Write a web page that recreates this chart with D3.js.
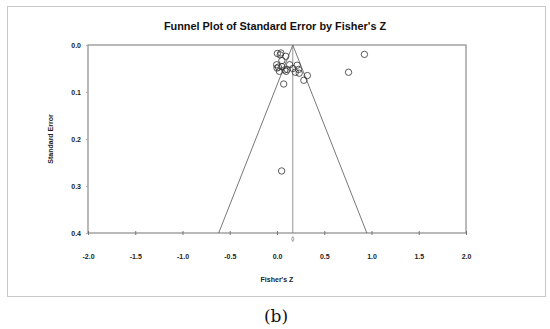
<!DOCTYPE html>
<html>
<head>
<meta charset="utf-8">
<script src="https://cdn.jsdelivr.net/npm/d3@7"></script>
<style>
  body { margin: 0; background: #fff; }
  svg { display: block; font-family: Arial, "Liberation Sans", sans-serif; }
</style>
</head>
<body>
<script>
// Fisher's Z / standard error per study
const fisherZ = [0.004, 0.041, 0.034, 0.093, 0.052, 0.925, 0.757, -0.004, 0.0, 0.052,
  0.026, 0.097, 0.108, 0.134, 0.168, 0.213, 0.228, 0.194, 0.235, 0.321,
  0.284, 0.071, 0.049, 0.015, 0.082];
const stdErr = [0.018, 0.017, 0.021, 0.024, 0.033, 0.020, 0.058, 0.042, 0.049, 0.046,
  0.056, 0.056, 0.052, 0.042, 0.050, 0.043, 0.052, 0.058, 0.060, 0.065,
  0.075, 0.083, 0.268, 0.047, 0.053];
const pooledZ = 0.167;
const xTicks = [-2.0, -1.5, -1.0, -0.5, 0.0, 0.5, 1.0, 1.5, 2.0];
const yTicks = [0.0, 0.1, 0.2, 0.3, 0.4];

const width = 550, height = 329;
const margin = {top: 45, bottom: 96, left: 88, right: 84};

// plain hyphen for negatives, like the original
const fmt = d => d.toFixed(1);

const svg = d3.select('body').append('svg')
  .attr('width', width)
  .attr('height', height);

// outer frame
svg.append('rect')
  .attr('x', 7.5).attr('y', 6.5)
  .attr('width', 538).attr('height', 290)
  .attr('fill', 'none')
  .attr('stroke', '#c8c8c8');

const xScale = d3.scaleLinear()
  .domain([-2, 2])
  .range([margin.left, width - margin.right]);

const yScale = d3.scaleLinear()
  .domain([0, 0.4])
  .range([margin.top, height - margin.bottom]);

svg.append('text')
  .attr('x', 275).attr('y', 30)
  .attr('text-anchor', 'middle')
  .attr('font-size', 10.9)
  .attr('font-weight', 'bold')
  .attr('fill', '#111')
  .text('Funnel Plot of Standard Error by Fisher\'s Z');

// plot box
svg.append('rect')
  .attr('x', xScale(-2)).attr('y', yScale(0))
  .attr('width', xScale(2) - xScale(-2))
  .attr('height', yScale(0.4) - yScale(0))
  .attr('fill', 'none')
  .attr('stroke', '#8a8a8a')
  .attr('stroke-width', 1.2);

const xAxis = svg.append('g')
  .attr('transform', `translate(0, ${yScale(0.4)})`)
  .call(d3.axisBottom(xScale)
    .tickValues(xTicks)
    .tickSize(0)
    .tickPadding(21)
    .tickFormat(fmt));
xAxis.select('.domain').remove();
xAxis.selectAll('text')
  .attr('font-size', 7).attr('font-weight', 'bold').attr('fill', '#222')
  .attr('font-family', 'Arial, "Liberation Sans", sans-serif');
xAxis.selectAll('.tick').append('line')
  .attr('y1', -2).attr('y2', 2)
  .attr('stroke', '#777');

const yAxis = svg.append('g')
  .attr('transform', `translate(${xScale(-2)}, 0)`)
  .call(d3.axisLeft(yScale)
    .tickValues(yTicks)
    .tickSize(2)
    .tickPadding(5)
    .tickFormat(fmt));
yAxis.select('.domain').remove();
yAxis.selectAll('.tick line').attr('stroke', '#aaa');
yAxis.selectAll('text')
  .attr('font-size', 7).attr('font-weight', 'bold').attr('fill', '#222')
  .attr('font-family', 'Arial, "Liberation Sans", sans-serif');

// funnel and centre line
const seMax = 0.4;
svg.append('path')
  .attr('d', d3.line()([
    [xScale(pooledZ - 1.96 * seMax), yScale(seMax)],
    [xScale(pooledZ), yScale(0)],
    [xScale(pooledZ + 1.96 * seMax), yScale(seMax)]
  ]))
  .attr('fill', 'none')
  .attr('stroke', '#555')
  .attr('stroke-width', 0.8);

svg.append('line')
  .attr('x1', xScale(pooledZ)).attr('x2', xScale(pooledZ))
  .attr('y1', yScale(0)).attr('y2', yScale(0.4))
  .attr('stroke', '#777')
  .attr('stroke-width', 0.8);

// summary diamond under axis
const dx = xScale(pooledZ), dy = yScale(0.4) + 6;
svg.append('path')
  .attr('d', `M${dx},${dy - 2.5}L${dx + 1.2},${dy}L${dx},${dy + 2.5}L${dx - 1.2},${dy}Z`)
  .attr('fill', 'none')
  .attr('stroke', '#666')
  .attr('stroke-width', 0.6);

svg.append('g')
  .selectAll('circle')
  .data(fisherZ.map((z, i) => [z, stdErr[i]]))
  .join('circle')
  .attr('cx', d => xScale(d[0]))
  .attr('cy', d => yScale(d[1]))
  .attr('r', 3.2)
  .attr('fill', 'none')
  .attr('stroke', '#333')
  .attr('stroke-width', 0.8);

svg.append('text')
  .attr('transform', `translate(53, ${(yScale(0) + yScale(0.4)) / 2}) rotate(-90)`)
  .attr('text-anchor', 'middle')
  .attr('font-size', 7).attr('font-weight', 'bold').attr('fill', '#222')
  .text('Standard Error');

svg.append('text')
  .attr('x', xScale(0)).attr('y', 282)
  .attr('text-anchor', 'middle')
  .attr('font-size', 7).attr('font-weight', 'bold').attr('fill', '#222')
  .text('Fisher\'s Z');

svg.append('text')
  .attr('x', 276).attr('y', 322)
  .attr('text-anchor', 'middle')
  .attr('font-size', 17)
  .attr('font-family', '"DejaVu Serif", "Liberation Serif", serif')
  .attr('fill', '#111')
  .text('(b)');
</script>
</body>
</html>
